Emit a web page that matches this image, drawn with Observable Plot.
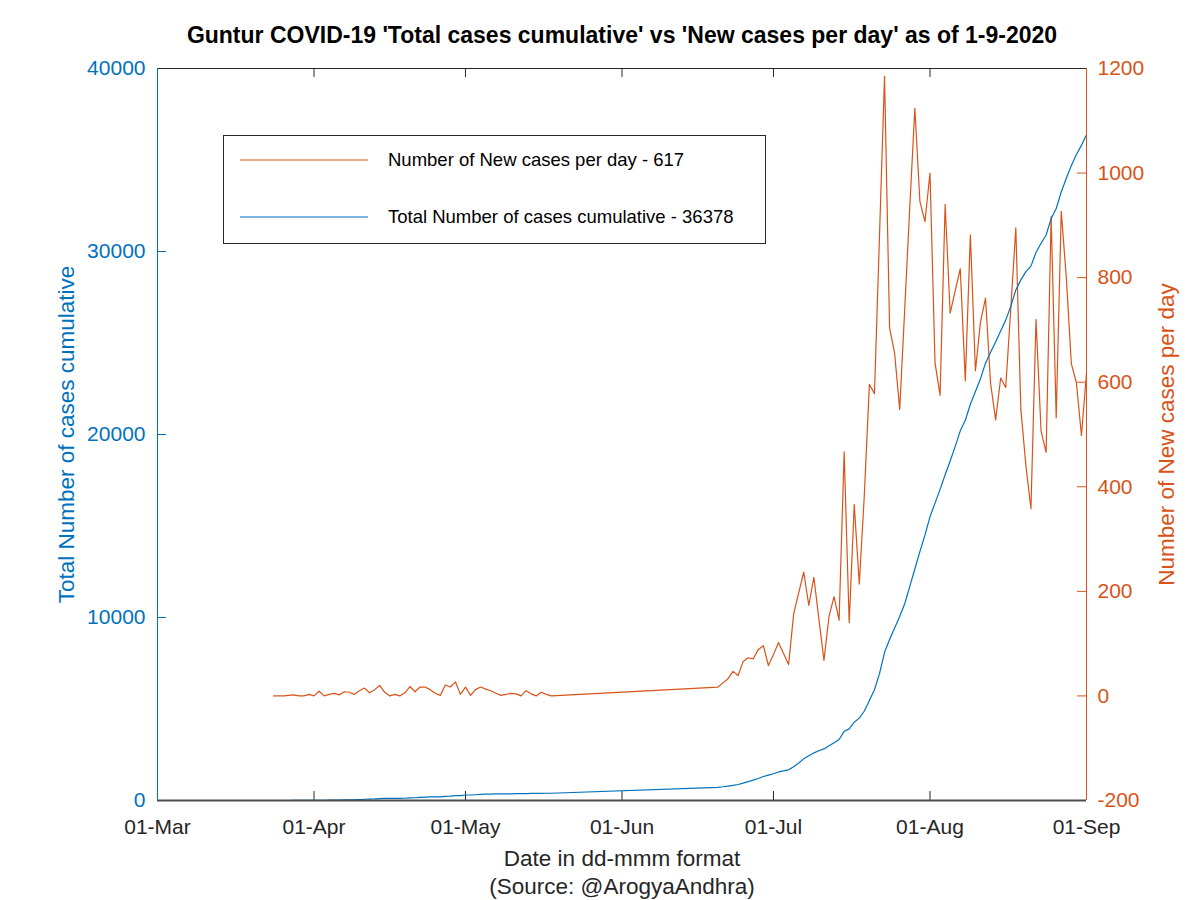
<!DOCTYPE html>
<html><head><meta charset="utf-8">
<script src="https://cdn.jsdelivr.net/npm/d3@7"></script>
<script src="https://cdn.jsdelivr.net/npm/@observablehq/plot@0.6"></script>
<style>
body{margin:0;background:#fff;font-family:"Liberation Sans",Arial,Helvetica,sans-serif;}
#wrap{position:relative;width:1200px;height:900px;}
#legend{position:absolute;left:223px;top:135px;}
</style></head><body><div id="wrap"></div>
<script>
const dates = [
"2020-03-24","2020-03-25","2020-03-26","2020-03-27","2020-03-28","2020-03-29","2020-03-30","2020-03-31",
"2020-04-01","2020-04-02","2020-04-03","2020-04-04","2020-04-05","2020-04-06","2020-04-07","2020-04-08","2020-04-09","2020-04-10",
"2020-04-11","2020-04-12","2020-04-13","2020-04-14","2020-04-15","2020-04-16","2020-04-17","2020-04-18","2020-04-19","2020-04-20",
"2020-04-21","2020-04-22","2020-04-23","2020-04-24","2020-04-25","2020-04-26","2020-04-27","2020-04-28","2020-04-29","2020-04-30",
"2020-05-01","2020-05-02","2020-05-03","2020-05-04","2020-05-05","2020-05-06","2020-05-07","2020-05-08","2020-05-09","2020-05-10",
"2020-05-11","2020-05-12","2020-05-13","2020-05-14","2020-05-15","2020-05-16","2020-05-17","2020-05-18",
"2020-06-20","2020-06-21","2020-06-22","2020-06-23","2020-06-24","2020-06-25","2020-06-26","2020-06-27","2020-06-28","2020-06-29",
"2020-06-30","2020-07-01","2020-07-02","2020-07-03","2020-07-04","2020-07-05","2020-07-06","2020-07-07","2020-07-08","2020-07-09",
"2020-07-10","2020-07-11","2020-07-12","2020-07-13","2020-07-14","2020-07-15","2020-07-16","2020-07-17","2020-07-18","2020-07-19",
"2020-07-20","2020-07-21","2020-07-22","2020-07-23","2020-07-24","2020-07-25","2020-07-26","2020-07-27","2020-07-28","2020-07-29","2020-07-30","2020-07-31",
"2020-08-01","2020-08-02","2020-08-03","2020-08-04","2020-08-05","2020-08-06","2020-08-07","2020-08-08","2020-08-09","2020-08-10",
"2020-08-11","2020-08-12","2020-08-13","2020-08-14","2020-08-15","2020-08-16","2020-08-17","2020-08-18","2020-08-19","2020-08-20",
"2020-08-21","2020-08-22","2020-08-23","2020-08-24","2020-08-25","2020-08-26","2020-08-27","2020-08-28","2020-08-29","2020-08-30","2020-08-31",
"2020-09-01"
];
const newCases = [
0,0,0,1,2,0,0,3,
0,9,0,3,5,2,8,7,3,10,
15,6,12,20,7,0,3,0,6,18,
8,17,17,12,5,1,21,17,27,3,
17,1,12,17,13,10,5,1,3,5,
4,0,10,4,0,7,3,0,
17,25,33,47,39,66,73,71,89,96,
58,79,102,81,60,157,197,237,173,227,
147,68,152,190,145,467,140,366,214,385,
596,578,880,1185,704,655,548,740,935,1124,946,907,
1000,637,575,940,732,775,817,603,882,622,
715,761,598,528,608,590,740,895,548,440,
358,720,507,466,917,532,927,800,635,599,498,
617
];
const totalCases = [
0,0,0,1,3,3,3,6,
6,15,15,18,23,25,33,40,43,53,
68,74,86,106,113,113,116,116,122,142,
150,167,184,196,201,202,223,240,267,270,
300,301,313,330,343,353,358,359,362,367,
371,371,381,385,385,392,395,395,
720,750,790,830,874,950,1030,1110,1200,1311,
1390,1460,1560,1620,1676,1850,2050,2276,2450,2600,
2720,2820,2990,3160,3330,3780,3916,4280,4500,4890,
5470,6050,6930,8100,8800,9430,10050,10750,11700,12650,13600,14500,
15500,16250,17000,17800,18550,19350,20200,20780,21650,22350,
23050,23900,24500,25050,25650,26250,27000,27900,28450,28900,
29200,29950,30450,30900,31800,32350,33250,34000,34700,35300,35800,
36378
];
const monthTicks = ["2020-03-01","2020-04-01","2020-05-01","2020-06-01","2020-07-01","2020-08-01","2020-09-01"];
const leftTicks = [0,10000,20000,30000,40000];
const rightTicks = [-200,0,200,400,600,800,1000,1200];
const titleText = "Guntur COVID-19 'Total cases cumulative' vs 'New cases per day' as of 1-9-2020";
const xLabel = "Date in dd-mmm format";
const sourceLabel = "(Source: @ArogyaAndhra)";
const leftLabel = "Total Number of cases cumulative";
const rightLabel = "Number of New cases per day";
const legendNew = "Number of New cases per day - 617";
const legendTotal = "Total Number of cases cumulative - 36378";

const blue = "#0072BD", orange = "#D95319", dark = "#262626";
const leftMax = 40000, rMin = -200, rMax = 1200;
const toLeft = v => (v - rMin) / (rMax - rMin) * leftMax;
const fromLeft = y => y / leftMax * (rMax - rMin) + rMin;

const parse = d3.utcParse("%Y-%m-%d");
const rows = dates.map((d, i) => ({date: parse(d), total: totalCases[i], fresh: newCases[i]}));
const months = monthTicks.map(parse);
const font = '"Liberation Sans", Arial, Helvetica, sans-serif';

const W = 1200, H = 900, mL = 157, mR = 114, mT = 68, mB = 100;
const fw = W - mL - mR, fh = H - mT - mB, tl = 9;

const chart = Plot.plot({
  width: W, height: H,
  marginLeft: mL, marginRight: mR, marginTop: mT, marginBottom: mB,
  style: {fontFamily: font, fontSize: "21px", background: "#fff", overflow: "visible"},
  x: {type: "utc", domain: [months[0], months[months.length - 1]]},
  y: {domain: [0, leftMax]},
  marks: [
    Plot.axisX(months, {tickSize: 0, tickPadding: 19, tickFormat: d3.utcFormat("%d-%b"), label: null, color: dark, fontSize: 21}),
    Plot.axisY(leftTicks, {anchor: "left", tickSize: 0, tickPadding: 12, tickFormat: d => String(d), label: null, color: blue, fontSize: 21}),
    Plot.axisY(rightTicks.map(toLeft), {anchor: "right", tickSize: 0, tickPadding: 11, tickFormat: d => String(Math.round(fromLeft(d))), label: null, color: orange, fontSize: 21}),
    Plot.tickX(months, {x: d => d, insetTop: fh - tl, stroke: dark}),
    Plot.tickX(months, {x: d => d, insetBottom: fh - tl, stroke: dark}),
    Plot.tickY(leftTicks, {y: d => d, insetRight: fw - tl, stroke: blue}),
    Plot.tickY(rightTicks.map(toLeft), {y: d => d, insetLeft: fw - tl, stroke: orange}),
    Plot.lineY(rows, {x: "date", y: d => toLeft(d.fresh), stroke: orange, strokeWidth: 1.2}),
    Plot.lineY(rows, {x: "date", y: "total", stroke: blue, strokeWidth: 1.2}),
    Plot.ruleY([leftMax], {stroke: dark}),
    Plot.ruleY([0], {stroke: "#4d4d4d", strokeWidth: 2}),
    Plot.ruleX([months[0]], {stroke: blue}),
    Plot.ruleX([months[months.length - 1]], {stroke: orange}),
    Plot.text([titleText], {frameAnchor: "top", lineAnchor: "middle", dy: -33, fontWeight: "bold", fontSize: 23, fill: "#000"}),
    Plot.text([xLabel], {frameAnchor: "bottom", lineAnchor: "middle", dy: 58, fontSize: 22.5, fill: dark}),
    Plot.text([sourceLabel], {frameAnchor: "bottom", lineAnchor: "middle", dy: 86, fontSize: 22.5, fill: dark}),
    Plot.text([leftLabel], {frameAnchor: "left", lineAnchor: "middle", textAnchor: "middle", rotate: -90, dx: -91, fontSize: 22.5, fill: blue}),
    Plot.text([rightLabel], {frameAnchor: "right", lineAnchor: "middle", textAnchor: "middle", rotate: -90, dx: 80, fontSize: 22.5, fill: orange})
  ]
});
const wrap = document.getElementById("wrap");
wrap.appendChild(chart);

const legend = document.createElement("div");
legend.id = "legend";
legend.innerHTML = `<svg width="544" height="110" style="display:block;font-family:${font.replace(/"/g, "'")}">
  <rect x="0.5" y="0.5" width="542" height="108" fill="#fff" stroke="${dark}" stroke-width="1"/>
  <line x1="17" x2="145" y1="25" y2="25" stroke="${orange}" stroke-width="1.2"/>
  <text x="165" y="25" dy="0.35em" font-size="18.5" fill="#000">${legendNew}</text>
  <line x1="17" x2="145" y1="82" y2="82" stroke="${blue}" stroke-width="1.2"/>
  <text x="165" y="82" dy="0.35em" font-size="18.5" fill="#000">${legendTotal}</text>
</svg>`;
wrap.appendChild(legend);
</script>
</body></html>
